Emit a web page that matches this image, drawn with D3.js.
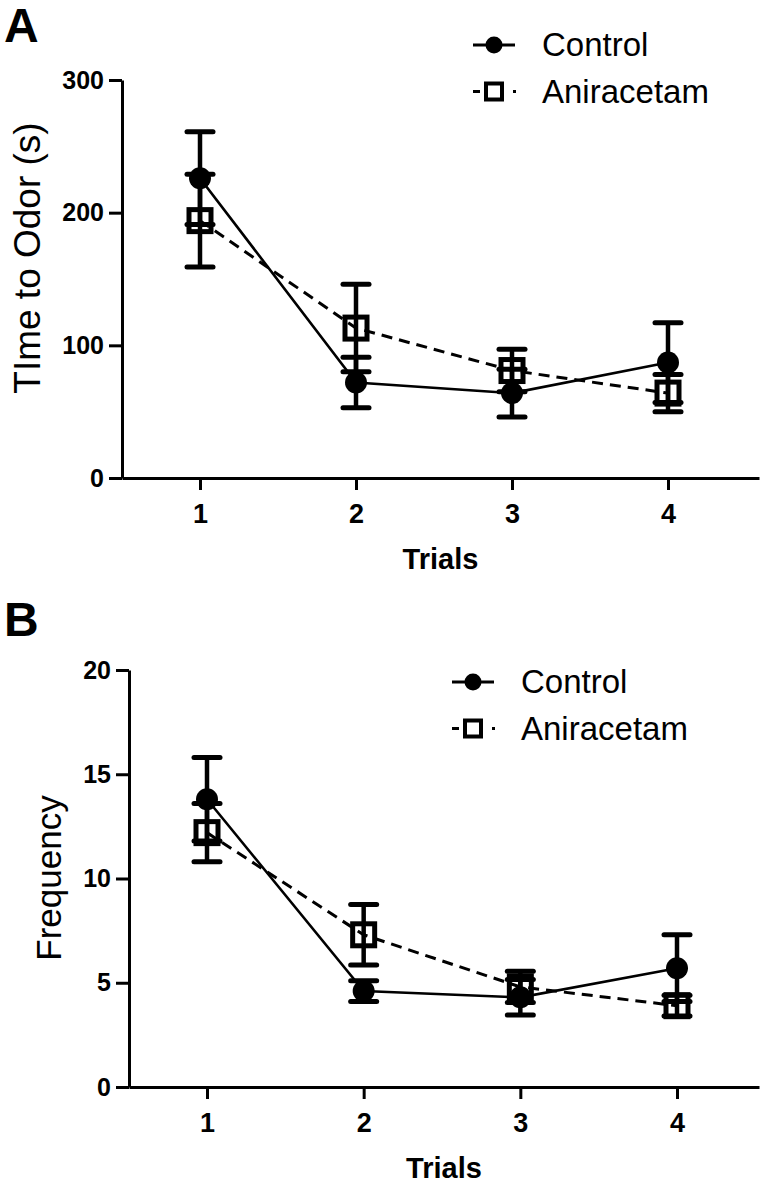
<!DOCTYPE html>
<html>
<head>
<meta charset="utf-8">
<script src="https://cdn.jsdelivr.net/npm/d3@7"></script>
<style>
  html, body { margin: 0; padding: 0; background: #fff; }
  svg { display: block; }
</style>
</head>
<body>
<svg id="chart" width="760" height="1189"></svg>
<script>
// ---- Data ----
const trials = [1, 2, 3, 4];
const seriesNames = ["Control", "Aniracetam"];

// Panel A: Time to Odor (s)
const aControlMean = [226, 72, 64, 87];
const aControlSem  = [35, 19, 18, 30];
const aAniMean     = [194, 113, 81, 64];
const aAniSem      = [35, 33, 16, 14];
const aYTicks      = [0, 100, 200, 300];

// Panel B: Frequency
const bControlMean = [13.8, 4.6, 4.3, 5.7];
const bControlSem  = [2.0, 0.5, 0.85, 1.6];
const bAniMean     = [12.2, 7.3, 4.8, 3.9];
const bAniSem      = [1.4, 1.45, 0.75, 0.5];
const bYTicks      = [0, 5, 10, 15, 20];

const svg = d3.select("#chart");
const FONT = "'Liberation Sans', Arial, Helvetica, sans-serif";

function drawPanel(cfg) {
  const g = svg.append("g");
  const xs = d3.scaleLinear().domain([1, 4]).range([cfg.xFirst, cfg.xLast]);
  const x = xs.copy().domain([xs.invert(cfg.axisX), xs.invert(759)]).range([cfg.axisX, 759]);
  const y = d3.scaleLinear().domain([0, cfg.yMax]).range([cfg.y0, cfg.y1]);

  // panel letter
  g.append("text").attr("x", 4).attr("y", cfg.letterY)
    .attr("font-family", FONT).attr("font-weight", "bold").attr("font-size", 48)
    .text(cfg.letter);

  // y axis
  const ya = g.append("g").attr("transform", `translate(${cfg.axisX},0)`)
    .call(d3.axisLeft(y).tickValues(cfg.yTicks).tickSize(13).tickSizeOuter(0).tickPadding(5));
  // x axis
  const xa = g.append("g").attr("transform", `translate(0,${cfg.y0})`)
    .call(d3.axisBottom(x).tickValues(trials).tickSize(12).tickSizeOuter(0).tickPadding(14)
      .tickFormat(d3.format("d")));
  [ya, xa].forEach(a => {
    a.selectAll("path.domain").attr("stroke", "#000").attr("stroke-width", 3);
    a.selectAll(".tick line").attr("stroke", "#000").attr("stroke-width", 3);
    a.selectAll(".tick text").attr("font-family", FONT).attr("font-weight", "bold")
      .attr("font-size", 25).attr("fill", "#000");
  });
  xa.selectAll(".tick text").attr("font-size", 27);

  // axis titles
  g.append("text")
    .attr("transform", `translate(${cfg.yTitleX},${cfg.yTitleY}) rotate(-90)`)
    .attr("text-anchor", "middle").attr("font-family", FONT).attr("font-size", cfg.yTitleSize)
    .text(cfg.yTitle);
  g.append("text").attr("x", (cfg.axisX + 759) / 2).attr("y", cfg.y0 + 91)
    .attr("text-anchor", "middle").attr("font-family", FONT).attr("font-weight", "bold")
    .attr("font-size", 29).text("Trials");

  const ctrl = trials.map((t, i) => ({ t, m: cfg.cMean[i], s: cfg.cSem[i] }));
  const ani = trials.map((t, i) => ({ t, m: cfg.aMean[i], s: cfg.aSem[i] }));
  const line = d3.line().x(d => x(d.t)).y(d => y(d.m));

  // connecting lines
  g.append("path").datum(ani).attr("d", line).attr("fill", "none")
    .attr("stroke", "#000").attr("stroke-width", 3).attr("stroke-dasharray", "11,7");
  g.append("path").datum(ctrl).attr("d", line).attr("fill", "none")
    .attr("stroke", "#000").attr("stroke-width", 2.6);

  // error bars
  const capW = 13;
  [ctrl, ani].forEach(data => {
    const eb = g.append("g").selectAll("g").data(data).join("g");
    eb.append("line").attr("x1", d => x(d.t)).attr("x2", d => x(d.t))
      .attr("y1", d => y(d.m - d.s)).attr("y2", d => y(d.m + d.s))
      .attr("stroke", "#000").attr("stroke-width", 4.5);
    eb.append("line").attr("x1", d => x(d.t) - capW).attr("x2", d => x(d.t) + capW)
      .attr("y1", d => y(d.m + d.s)).attr("y2", d => y(d.m + d.s))
      .attr("stroke", "#000").attr("stroke-width", 5).attr("stroke-linecap", "round");
    eb.append("line").attr("x1", d => x(d.t) - capW).attr("x2", d => x(d.t) + capW)
      .attr("y1", d => y(d.m - d.s)).attr("y2", d => y(d.m - d.s))
      .attr("stroke", "#000").attr("stroke-width", 5).attr("stroke-linecap", "round");
  });

  // markers
  const sq = 22;
  g.append("g").selectAll("rect").data(ani).join("rect")
    .attr("x", d => x(d.t) - sq / 2).attr("y", d => y(d.m) - sq / 2)
    .attr("width", sq).attr("height", sq)
    .attr("fill", "none").attr("stroke", "#000").attr("stroke-width", 5);
  g.append("g").selectAll("circle").data(ctrl).join("circle")
    .attr("cx", d => x(d.t)).attr("cy", d => y(d.m)).attr("r", 11).attr("fill", "#000");

  // legend
  const lx = cfg.legX, ly = cfg.legY, gap = 46.5;
  const leg = g.append("g");
  leg.append("line").attr("x1", lx - 21).attr("x2", lx + 21).attr("y1", ly).attr("y2", ly)
    .attr("stroke", "#000").attr("stroke-width", 3);
  leg.append("circle").attr("cx", lx).attr("cy", ly).attr("r", 8.5).attr("fill", "#000");
  leg.append("line").attr("x1", lx - 21).attr("x2", lx + 22).attr("y1", ly + gap).attr("y2", ly + gap)
    .attr("stroke", "#000").attr("stroke-width", 3).attr("stroke-dasharray", "7,33,3");
  leg.append("rect").attr("x", lx - 8).attr("y", ly + gap - 8)
    .attr("width", 16).attr("height", 16).attr("fill", "none")
    .attr("stroke", "#000").attr("stroke-width", 4);
  seriesNames.forEach((n, i) => {
    leg.append("text").attr("x", lx + 48).attr("y", ly + i * gap + 11)
      .attr("font-family", FONT).attr("font-size", 33).attr("fill", "#000").text(n);
  });
}

drawPanel({
  letter: "A", letterY: 42,
  axisX: 122, xFirst: 200, xLast: 668,
  y0: 478, y1: 80, yMax: 300, yTicks: aYTicks,
  yTitle: "TIme to Odor (s)", yTitleX: 40, yTitleY: 258, yTitleSize: 37,
  cMean: aControlMean, cSem: aControlSem, aMean: aAniMean, aSem: aAniSem,
  legX: 494, legY: 45
});
drawPanel({
  letter: "B", letterY: 636,
  axisX: 129, xFirst: 207, xLast: 677,
  y0: 1087, y1: 670, yMax: 20, yTicks: bYTicks,
  yTitle: "Frequency", yTitleX: 61, yTitleY: 878, yTitleSize: 35,
  cMean: bControlMean, cSem: bControlSem, aMean: bAniMean, aSem: bAniSem,
  legX: 473, legY: 682
});
</script>
</body>
</html>
